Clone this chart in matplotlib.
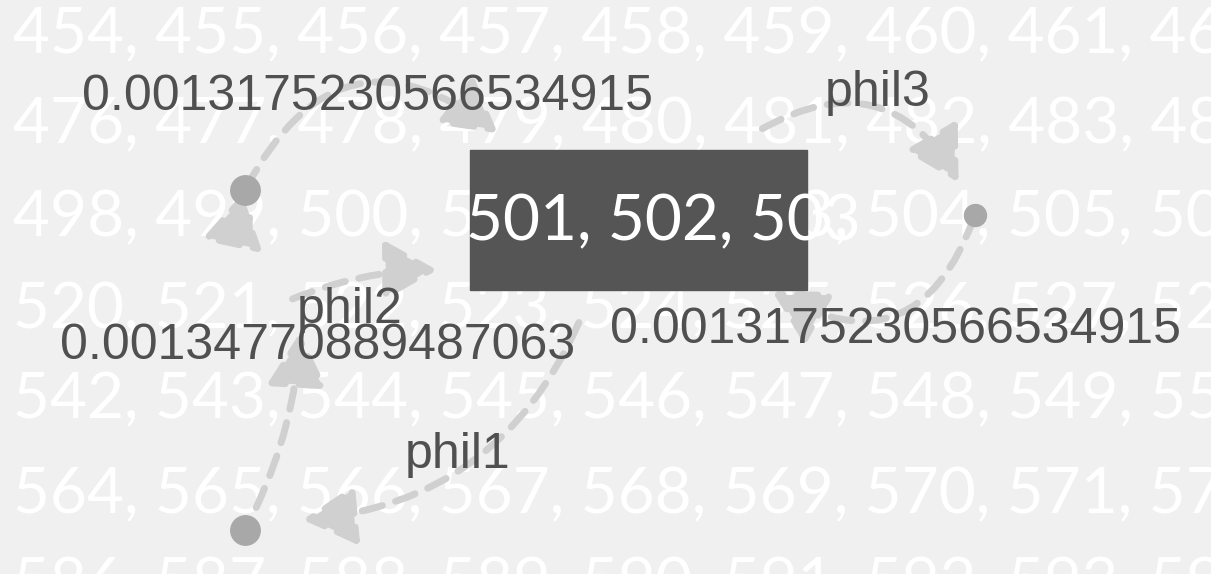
import matplotlib
matplotlib.use("Agg")
import matplotlib.pyplot as plt
from matplotlib.patches import FancyArrowPatch, Rectangle

W, H = 1211, 574
row_starts = [454, 476, 498, 520, 542, 564, 586]
node_names = ["n1", "n2", "n3"]
node_xy = [(245, 190), (975, 215), (245, 530)]
edge_labels = ["0.0013175230566534915", "phil3", "0.0013175230566534915",
               "phil2", "0.00134770889487063", "phil1"]
label_xy = [(368, 97), (878, 93), (895, 330), (350, 310), (318, 346), (458, 455)]
edges = [  # (start, end, rad)
    ((245, 190), (500, 135), -0.6),
    ((760, 130), (960, 185), -0.5),
    ((975, 215), (770, 290), -0.6),
    ((250, 215), (265, 255), 0.3),
    ((290, 300), (440, 270), -0.1),
    ((580, 320), (300, 520), -0.3),
    ((255, 510), (300, 330), 0.1),
]

fig = plt.figure(figsize=(W/100, H/100), dpi=100)
fig.patch.set_facecolor("#f0f0f0")
ax = fig.add_axes([0, 0, 1, 1])
ax.set_xlim(0, W); ax.set_ylim(H, 0); ax.axis("off")
ax.set_facecolor("#f0f0f0")

row_y = [35, 125, 218, 310, 400, 495, 585]
for s, y in zip(row_starts, row_y):
    txt = ", " + ", ".join(str(s + i) for i in range(9))
    ax.text(-18, y, txt, color="white", fontsize=46, family="Lato",
            va="center", ha="left", zorder=1)

for (p0, p1, rad) in edges:
    a = FancyArrowPatch(p0, p1, connectionstyle=f"arc3,rad={rad}",
                        arrowstyle="-|>,head_length=1.6,head_width=0.9",
                        mutation_scale=20, color="#d0d0d0", lw=5,
                        linestyle=(0, (3, 2)), zorder=2)
    ax.add_patch(a)

for (x, y) in node_xy:
    ax.scatter([x], [y], s=450 if y != 215 else 250, color="#a8a8a8", zorder=3)

box = Rectangle((470, 150), 337, 140, color="#555555", zorder=4)
ax.add_patch(box)
t = ax.text(466, 222, "501, 502, 503", color="white", fontsize=46, family="Lato",
            va="center", ha="left", zorder=5)
t.set_clip_path(box)

for s, (x, y) in zip(edge_labels, label_xy):
    ax.text(x, y, s, color="#505050", fontsize=36, family="Liberation Sans",
            ha="center", va="center", zorder=6)

fig.savefig("out.png", dpi=100, facecolor=fig.get_facecolor())
